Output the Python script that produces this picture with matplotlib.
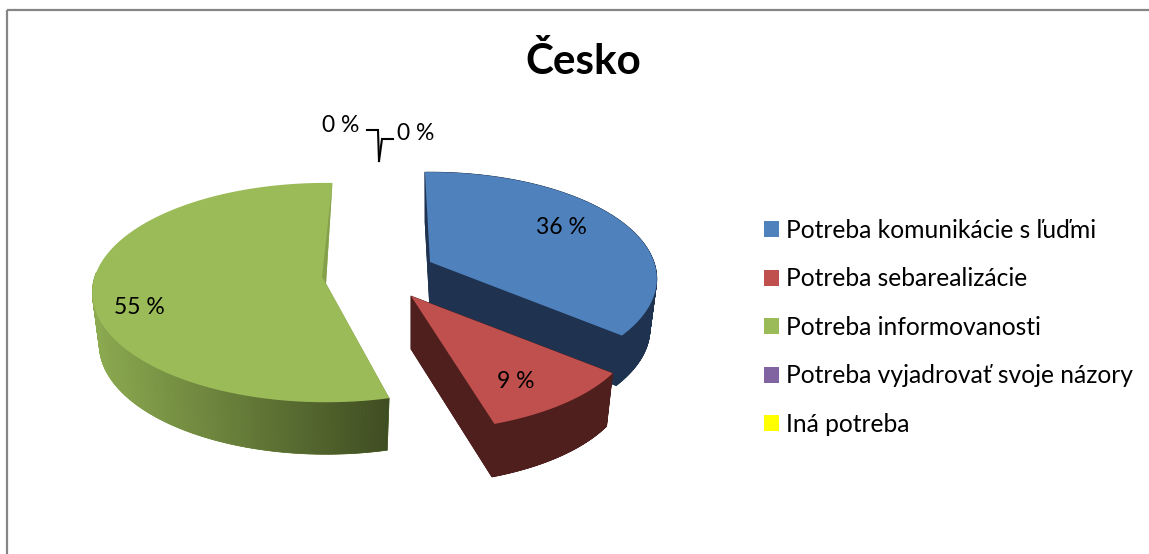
import matplotlib

matplotlib.use("Agg")
import matplotlib.pyplot as plt
import numpy as np
from matplotlib.colors import to_rgb
from matplotlib.patches import Patch, Rectangle

TITLE = "Česko"
categories = [
    "Potreba komunikácie s ľuďmi",
    "Potreba sebarealizácie",
    "Potreba informovanosti",
    "Potreba vyjadrovať svoje názory",
    "Iná potreba",
]
shares = [36.4, 9.1, 54.5, 0, 0]
share_labels = ["36 %", "9 %", "55 %", "0 %", "0 %"]
top_colors = ["#4F81BD", "#C0504D", "#9BBB59", "#8064A2", "#FFFF00"]
wall_colors = ["#1F3350", "#4F1F1E", "#8CAA50"]

# layout, in pixels of the output image
apex_x = [430, 411, 326]
apex_y = [262, 296, 284]
radius_x = [224, 212, 233]
radius_y = [104, 92, 109]
perspective = [0.157, 0.32, 0.078]
depth = [50, 53, 52]
rotation = [-2.5, -0.6, 0.7]
label_x = [561, 516, 139, 341, 416]
label_y = [228, 382, 308, 126, 134]
FIRST_ANGLE = 1.0
BOTTOM_SCALE = 0.97
GREEN_WALL_DARK = "#3F4D22"
FONT = "Lato"


def rim(i, theta):
    t = np.radians(theta + rotation[i])
    w = 1 + perspective[i] * np.cos(t)
    x = apex_x[i] + radius_x[i] * np.sin(t) / w
    y = apex_y[i] - radius_y[i] * np.cos(t) / w
    return x, y


def drop(i, x, y):
    return apex_x[i] + BOTTOM_SCALE * (x - apex_x[i]), y + depth[i]


def draw_slice(ax, i, start, stop):
    theta = np.linspace(start, stop, 240)
    x, y = rim(i, theta)
    # the back of the green slice must not peek out past its top face
    if i == 2:
        front = np.cos(np.radians(theta)) < 0.1
    else:
        front = np.ones(len(theta), dtype=bool)
    fx, fy = x[front], y[front]
    bx, by = drop(i, fx, fy)
    ax0, ay0 = apex_x[i], apex_y[i]
    bx0, by0 = drop(i, ax0, ay0)
    wall = wall_colors[i]

    # lower disc and the walls standing on it
    ax.fill(np.r_[bx0, bx], np.r_[by0, by], color=wall, lw=0.5, zorder=2 + i)
    ax.fill([ax0, bx0, bx[0], fx[0]], [ay0, by0, by[0], fy[0]], color=wall, lw=0.5, zorder=2 + i)
    if i != 2:
        ax.fill([ax0, bx0, bx[-1], fx[-1]], [ay0, by0, by[-1], fy[-1]], color=wall, lw=0.5, zorder=2 + i)
    light = np.array(to_rgb(wall))
    dark = np.array(to_rgb(GREEN_WALL_DARK))
    for j in range(len(fx) - 1):
        color = wall
        if i == 2:
            f = (fx[j] - fx.min()) / (fx.max() - fx.min())
            color = tuple(light + (dark - light) * f)
        ax.fill(
            [fx[j], fx[j + 1], bx[j + 1], bx[j]],
            [fy[j], fy[j + 1], by[j + 1], by[j]],
            color=color,
            lw=0.5,
            zorder=2 + i,
        )
    ax.fill(np.r_[ax0, x], np.r_[ay0, y], color=top_colors[i], lw=0, zorder=2 + i)


fig = plt.figure(figsize=(11.49, 5.54), dpi=100)
ax = fig.add_axes([0, 0, 1, 1])
ax.set_xlim(0, 1149)
ax.set_ylim(554, 0)
ax.axis("off")

ax.add_patch(Rectangle((7, 10), 1160, 560, fill=False, ec="#868686", lw=1.6, zorder=1))

# red is painted over the blue wall, so draw order follows the list index
angle = FIRST_ANGLE
for i, share in enumerate(shares):
    sweep = share / sum(shares) * 360
    if sweep > 0:
        draw_slice(ax, i, angle, angle + sweep)
    angle += sweep

# thin inner face of the green slice
sx, sy = rim(2, FIRST_ANGLE)
ax.fill(
    [sx, apex_x[2], apex_x[2] - 4],
    [sy, apex_y[2], apex_y[2] - 7],
    color="#84A04B",
    lw=0,
    zorder=6,
)

# leader lines of the two empty slices
ax.plot([367, 378, 379], [130, 130, 161], color="black", lw=1.5, zorder=7, solid_joinstyle="miter")
ax.plot([393, 382, 379], [139, 139, 161], color="black", lw=1.5, zorder=7, solid_joinstyle="miter")

for lx, ly, text in zip(label_x, label_y, share_labels):
    ax.text(lx, ly, text, ha="center", va="center", fontsize=16.5, family=FONT, color="black", zorder=8)

ax.text(583, 62, TITLE, ha="center", va="center", fontsize=30.4, fontweight="bold", family=FONT, color="black")

handles = [Patch(facecolor=c, edgecolor="none") for c in top_colors]
ax.legend(
    handles,
    categories,
    loc="upper left",
    bbox_to_anchor=(764 / 1149, 1 - 219 / 554),
    frameon=False,
    prop={"family": FONT, "size": 17.7},
    handlelength=0.61,
    handleheight=0.61,
    handletextpad=0.28,
    labelspacing=1.035,
    borderpad=0,
    borderaxespad=0,
)

fig.savefig("out.png", dpi=100, facecolor="white")
